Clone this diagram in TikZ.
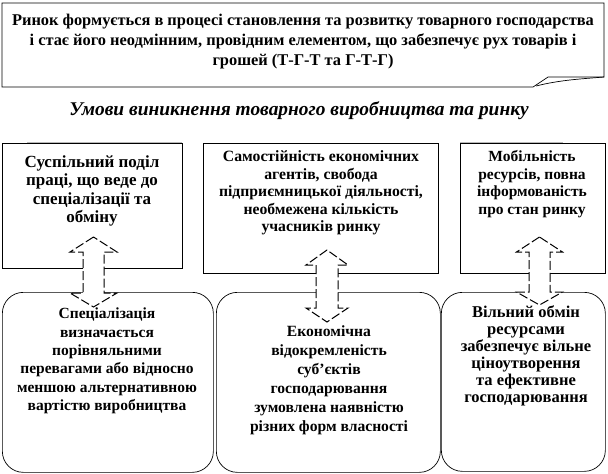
\documentclass[tikz,border=0pt]{standalone}
\usepackage{fontspec}
\setmainfont{Liberation Serif}
\usetikzlibrary{calc}
\newcommand\mydblarrow[7]{%
  \draw[barrow] (#1,#2) -- (#1-#6,#3) -- (#1-#7,#3) -- (#1-#7,#4) -- (#1-#6,#4) -- (#1,#5)
    -- (#1+#6,#4) -- (#1+#7,#4) -- (#1+#7,#3) -- (#1+#6,#3) -- cycle;}
\begin{document}
\begin{tikzpicture}[x=1pt,y=-1pt,
  box/.style={draw, line width=0.7pt, fill=white, anchor=north west, inner sep=0pt},
  rbox/.style={box, rounded corners=21pt},
  txt/.style={align=center, inner sep=0pt},
  bodyfont/.style 2 args={font=\fontsize{#1}{#2}\selectfont\bfseries},
  barrow/.style={draw, fill=white, line width=1pt, dash pattern=on 9pt off 3pt},
  shadow/.style={draw=gray!55, line width=1.5pt}]
\useasboundingbox (0,0) rectangle (608,474);
% top note
\coordinate (n1) at (2,3);
\coordinate (n2) at (604,3);
\coordinate (n3) at (604,77);
\coordinate (n4) at (548,77);
\coordinate (n5) at (533,87);
\coordinate (n6) at (2,87);
\draw[line width=0.7pt, fill=white] (n1) -- (n2) -- (n3) -- (n4) -- (n5) -- (n6) -- cycle;
\draw[line width=0.7pt] (536,86) .. controls (560,80) and (580,79) .. (n3);
\node[txt, bodyfont={16.4}{20}] (note) at (303,42) {Ринок формується в процесі  становлення  та розвитку товарного  господарства\\ і стає його неодмінним,  провідним  елементом, що забезпечує рух товарів і\\ грошей (Т-Г-Т та Г-Т-Г)};
% title
\node[txt, font=\fontsize{19.4}{22}\selectfont\bfseries\itshape] (title) at (299,111) {Умови виникнення товарного виробництва та ринку};
% top boxes
\node[box, minimum width=180pt, minimum height=125pt] (b1) at (2,143) {};
\node[box, minimum width=235pt, minimum height=130pt] (b2) at (203,143) {};
\node[box, minimum width=145pt, minimum height=130pt] (b3) at (460,143) {};
% shadows
\draw[shadow] (27,142.5) -- (182,142.5);
\draw[shadow] (460,142.5) -- (563,142.5);
% bottom boxes
\node[rbox, minimum width=211pt, minimum height=180pt] (bA) at (2,292) {};
\node[rbox, minimum width=224pt, minimum height=180pt] (bB) at (216,292) {};
\node[rbox, minimum width=164pt, minimum height=179pt] (bC) at (441,292) {};
% arrows
\mydblarrow{93.5}{237}{252}{293}{307}{23.5}{10.5}
\mydblarrow{327}{250}{265}{308}{322}{21}{11}
\mydblarrow{539.5}{237}{252}{292}{305}{23}{10.5}
% texts
\node[txt, bodyfont={17}{18.5}] (t1) at (92,191) {Суспільний  поділ\\ праці,  що веде до\\ спеціалізації  та\\ обміну};
\node[txt, bodyfont={15.7}{17.5}] (t2) at (321,193) {Самостійність  економічних\\ агентів,  свобода\\ підприємницької  діяльності,\\ необмежена  кількість\\ учасників  ринку};
\node[txt, bodyfont={15.5}{17.5}] (t3) at (532,184) {Мобільність\\ ресурсів, повна\\ інформованість\\ про  стан  ринку};
\node[txt, bodyfont={15.5}{18.4}] (tA) at (107,361) {Спеціалізація\\ визначається\\ порівняльними\\ перевагами або відносно\\ меншою  альтернативною\\ вартістю виробництва};
\node[txt, bodyfont={15.6}{19}] (tB) at (329,380.5) {Економічна\\ відокремленість\\ суб'єктів\\ господарювання\\ зумовлена  наявністю\\ різних  форм  власності};
\node[txt, bodyfont={16.5}{17}] (tC) at (526,355.5) {Вільний  обмін\\ ресурсами\\ забезпечує вільне\\ ціноутворення\\ та ефективне\\ господарювання};
\end{tikzpicture}
\end{document}
